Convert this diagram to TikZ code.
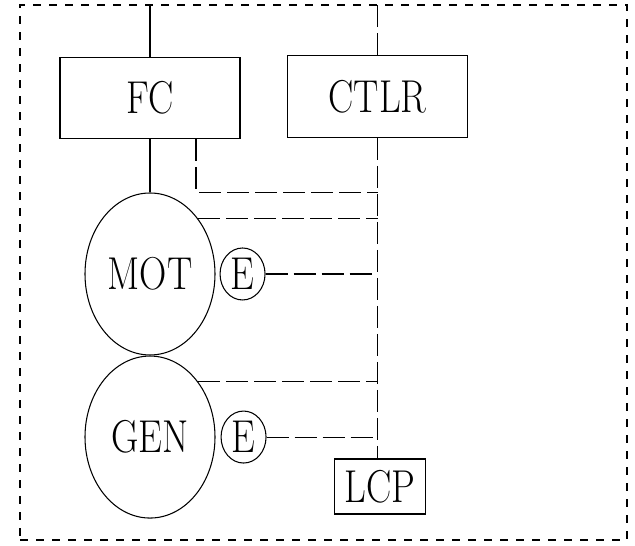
\documentclass[tikz,border=0pt]{standalone}
\usepackage{tikz}
\usetikzlibrary{positioning,shapes.geometric}

\newcommand{\tallname}[1]{\scalebox{1}[1.22]{#1}}

\begin{document}
\begin{tikzpicture}[
line width=0.6pt,
label font/.style={font=\fontsize{21.5}{26}\selectfont},
unit/.style={
    rectangle,
    draw,
    minimum width=3.6cm,
    minimum height=1.63cm,
    label font
},
machine/.style={ellipse, draw, inner sep=0pt, minimum width=2.6cm, minimum height=3.24cm, label font},
exciter/.style={ellipse, draw, inner sep=0pt, minimum width=0.9cm, minimum height=1.04cm, label font},
frame/.style={draw, dash pattern=on 0.16cm off 0.16cm, minimum width=12.14cm, minimum height=10.7cm},
sig/.style={dash pattern=on 0.44cm off 0.12cm}
]
\useasboundingbox (0,0) rectangle (12.7,10.92);
\node[frame] (box) at (6.47,5.47) {};

\node[unit] (fc) at (3.0,8.96) {\tallname{FC}};
\node[unit] (ctlr) at (7.55,8.99) {\tallname{CTLR}};
\node[machine] (mot) at (3.0,5.44) {\tallname{MOT}};
\node[machine, below=0pt of mot] (gen) {\tallname{GEN}};
\node[exciter, right=0.08cm of mot] (e1) {\tallname{E}};
\node[exciter, right=0.1cm of gen] (e2) {\tallname{E}};
\node[unit, minimum width=1.82cm, minimum height=1.1cm, inner sep=0.1cm] (lcp) at (7.6,1.19) {\tallname{LCP}};

% control bus
\coordinate (bus) at (ctlr.south);
\coordinate (fctap) at ([xshift=0.92cm,yshift=-1.06cm]fc.south);

\draw (fc.north) -- (fc.north |- box.north);
\draw[sig] (ctlr.north) -- (ctlr.north |- box.north);
\draw (fc.south) -- (mot.north);
\draw[sig] (bus) -- (bus |- lcp.north);

\draw[sig] ([xshift=0.92cm]fc.south) -- (fctap) -- (fctap -| bus);
\draw[sig] (mot.49) -- (mot.49 -| bus);
\draw[sig] (e1.east) -- (e1.east -| bus);
\draw[sig] (gen.49) -- (gen.49 -| bus);
\draw[sig] (e2.east) -- (e2.east -| bus);
\end{tikzpicture}
\end{document}
